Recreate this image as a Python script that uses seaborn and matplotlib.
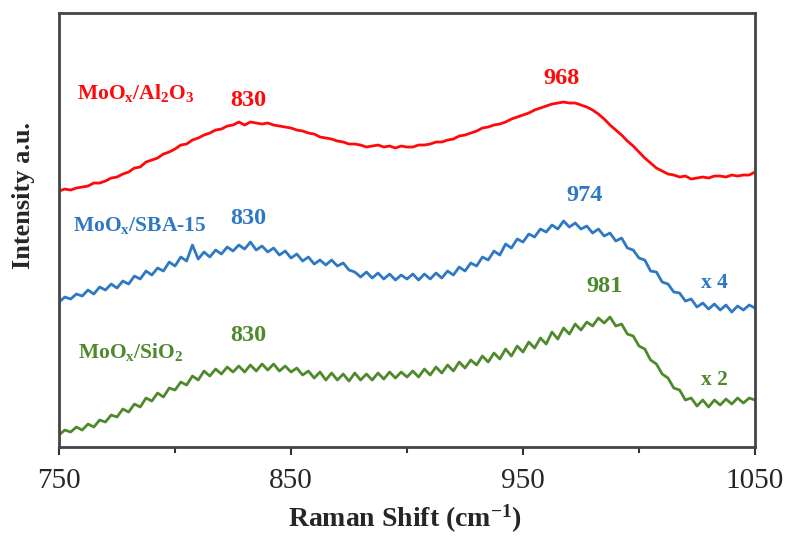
import numpy as np
import pandas as pd
import matplotlib
matplotlib.use("Agg")
import matplotlib.pyplot as plt
import seaborn as sns
from matplotlib.ticker import FixedLocator

# Raman spectra (2.5 cm-1 steps, offset/scaled intensities, a.u.)
al2o3 = [269, 271, 270, 272, 273, 274, 277, 277, 279, 282, 283, 286, 288, 292, 293, 298,
         300, 302, 306, 308, 311, 315, 316, 320, 322, 325, 327, 330, 331, 334, 335, 338,
         335, 338, 337, 336, 337, 335, 334, 333, 332, 330, 329, 327, 326, 323, 322, 321,
         319, 318, 316, 316, 315, 313, 314, 315, 313, 314, 312, 314, 313, 313, 315, 315,
         316, 318, 318, 320, 321, 324, 325, 327, 329, 332, 333, 335, 336, 338, 341, 343,
         345, 347, 350, 352, 354, 356, 357, 358, 357, 357, 355, 353, 350, 346, 341, 335,
         330, 325, 319, 314, 308, 302, 297, 292, 289, 286, 285, 283, 284, 281, 282, 283,
         282, 284, 284, 283, 285, 284, 285, 285, 288]
sba15 = [158, 163, 161, 166, 164, 170, 166, 173, 170, 176, 172, 179, 176, 184, 181, 189,
         185, 192, 189, 198, 194, 203, 199, 215, 201, 208, 203, 210, 206, 213, 209, 215,
         211, 218, 210, 214, 208, 212, 205, 209, 202, 206, 199, 203, 196, 200, 195, 200,
         194, 197, 190, 188, 183, 188, 182, 187, 181, 186, 180, 185, 181, 186, 180, 186,
         181, 187, 182, 189, 185, 193, 189, 197, 194, 203, 200, 209, 205, 216, 212, 221,
         218, 226, 223, 231, 228, 235, 231, 239, 233, 237, 231, 234, 227, 231, 224, 227,
         219, 222, 212, 210, 202, 200, 189, 188, 178, 176, 168, 167, 159, 161, 153, 157,
         151, 156, 150, 155, 148, 154, 150, 155, 152]
sio2 = [25, 30, 28, 33, 30, 36, 33, 40, 38, 45, 43, 51, 48, 56, 53, 62,
        59, 67, 63, 72, 70, 78, 75, 84, 80, 89, 84, 91, 86, 93, 88, 94,
        88, 95, 89, 96, 90, 96, 89, 94, 88, 92, 85, 89, 82, 88, 80, 87,
        80, 86, 79, 87, 80, 86, 80, 87, 81, 88, 82, 88, 83, 89, 83, 91,
        85, 93, 87, 95, 89, 98, 92, 100, 95, 104, 98, 107, 101, 111, 104, 114,
        108, 118, 112, 122, 116, 128, 121, 132, 126, 136, 130, 138, 134, 142, 137, 143,
        134, 136, 126, 124, 114, 111, 100, 96, 86, 82, 72, 70, 60, 62, 54, 60,
        53, 60, 55, 61, 56, 62, 57, 62, 60]

series_names = ["MoO$_x$/Al$_2$O$_3$", "MoO$_x$/SBA-15", "MoO$_x$/SiO$_2$"]
series_colors = ["#FF0A0A", "#2F78C4", "#4E8A2C"]
peak_labels = [["830", "968"], ["830", "974"], ["830", "981"]]
scale_labels = ["", "x 4", "x 2"]
major_ticks = [750, 850, 950, 1050]
minor_ticks = [800, 900, 1000]

frames = []
for name, vals in zip(series_names, [al2o3, sba15, sio2]):
    shift = np.linspace(750, 1050, len(vals))
    frames.append(pd.DataFrame({"shift": shift, "intensity": vals, "sample": name}))
df = pd.concat(frames, ignore_index=True)

sns.set_style("ticks")
plt.rcParams["font.family"] = ["Liberation Serif", "DejaVu Serif"]
plt.rcParams["mathtext.default"] = "regular"

fig = plt.figure(figsize=(7.88, 5.38), dpi=100)
ax = fig.add_axes([0.0749, 0.1691, 0.8832, 0.8067])

sns.lineplot(data=df, x="shift", y="intensity", hue="sample",
             palette=dict(zip(series_names, series_colors)),
             linewidth=2.0, legend=False, ax=ax)

ax.set_xlim(750, 1050)
ax.set_ylim(13, 447)
ax.xaxis.set_major_locator(FixedLocator(major_ticks))
ax.xaxis.set_minor_locator(FixedLocator(minor_ticks))
ax.set_yticks([])
ax.tick_params(axis="x", which="major", direction="out", length=6, width=1.5,
               color="#333333", labelsize=21, pad=9)
ax.tick_params(axis="x", which="minor", direction="out", length=4.5, width=1.5,
               color="#333333")
for sp in ax.spines.values():
    sp.set_visible(True)
    sp.set_linewidth(2)
    sp.set_color("#444444")

ax.set_xlabel("Raman Shift (cm$^{-1}$)", fontsize=20, fontweight="bold")
ax.xaxis.set_label_coords(0.497, -0.128)
ax.set_ylabel("Intensity a.u.", fontsize=19, fontweight="bold")
ax.yaxis.set_label_coords(-0.034, 0.58)

# sample names
name_pos = [(757.8, 367), (756.0, 235), (758.2, 108)]
for name, col, (x, y) in zip(series_names, series_colors, name_pos):
    ax.text(x, y, name, color=col, fontsize=15.5, fontweight="bold",
            ha="left", va="center")

# peak positions
peak_pos = [[(831.5, 360), (966.8, 382)],
            [(831.5, 242), (976.7, 265)],
            [(831.5, 125), (985.0, 174)]]
for labels, col, pos in zip(peak_labels, series_colors, peak_pos):
    for lab, (x, y) in zip(labels, pos):
        ax.text(x, y, lab, color=col, fontsize=17.5, fontweight="bold",
                ha="center", va="center")

# scale factors
scale_pos = [None, (1032.3, 177), (1032.3, 80)]
for lab, col, pos in zip(scale_labels, series_colors, scale_pos):
    if lab:
        ax.text(pos[0], pos[1], lab, color=col, fontsize=15.5, fontweight="bold",
                ha="center", va="center")

fig.savefig("out.png", dpi=100)
plt.close(fig)
